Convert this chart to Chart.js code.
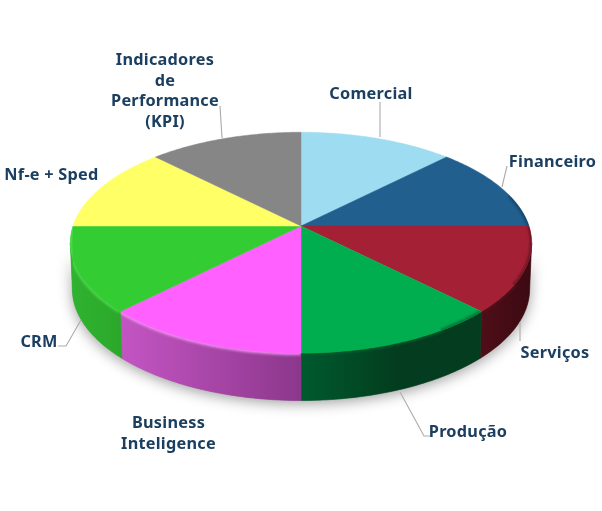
<!DOCTYPE html>
<html>
<head>
<meta charset="utf-8">
<style>html,body{margin:0;padding:0;background:#fff}canvas{display:block}</style>
<script src="https://cdn.jsdelivr.net/npm/chart.js@4"></script>
</head>
<body>
<canvas id="c" width="602" height="511"></canvas>
<script>
const categories = [["Comercial"],["Financeiro"],["Serviços"],["Produção"],["Business","Inteligence"],["CRM"],["Nf-e + Sped"],["Indicadores","de","Performance","(KPI)"]];
const values = [12.5,12.5,12.5,12.5,12.5,12.5,12.5,12.5];
const topColors = ["#9DDCF1","#215F8F","#A42135","#00AE4F","#FF60FF","#33CC33","#FFFF66","#868686"];
const sideLeft = ["#4E0E18","#4E0E18","#4E0E18","#005A2E","#C455C4","#2FB32F","#2FB32F","#2FB32F"];
const sideRight = ["#3C0A12","#3C0A12","#3C0A12","#033C1E","#8C378C","#2BA82B","#2BA82B","#2BA82B"];
const bevel = [null,"#123a58","#5e101c","#00602f","#FF9CFF","#55E055",null,null];
const labelPos = [[371,94],[552.5,162],[555,353],[468,432],[168.5,434],[39,342],[51.5,175],[165,91.5]];
const leaders = [[[380,137],[380,102]],[[502,187],[507,166]],[[520,322],[520,341]],[[400,392],[424,436],[430,436]],[],[[81,320],[66,346],[58,346]],[],[[222,138],[220,106]]];

const TOP = {cx:301,cy:226,R:228,A:108,B:-0.152};
const BOT = {cx:301,cy:272,R:226,A:109,B:-0.152};
function proj(g,a){
  const c=Math.cos(a),s=Math.sin(a),d=1+g.B*s;
  return [g.cx+g.R*c/d,g.cy+g.A*s/d];
}
function edge(ctx,g,a0,a1,first){
  const n=Math.max(2,Math.ceil(Math.abs(a1-a0)*60));
  for(let i=0;i<=n;i++){
    const p=proj(g,a0+(a1-a0)*i/n);
    if(i===0&&first)ctx.moveTo(p[0],p[1]);else ctx.lineTo(p[0],p[1]);
  }
}
function sidePath(ctx,a0,a1){
  ctx.beginPath();
  edge(ctx,TOP,a0,a1,true);
  edge(ctx,BOT,a1,a0,false);
  ctx.closePath();
}
function wedge(ctx,a0,a1){
  ctx.beginPath();
  ctx.moveTo(TOP.cx,TOP.cy);
  edge(ctx,TOP,a0,a1,false);
  ctx.closePath();
}
const H0=0.153,H1=Math.PI-0.153;
const pie3d={
  id:'pie3d',
  beforeDatasetDraw(chart,args){
    const ctx=chart.ctx,arcs=args.meta.data;
    const ang=arcs.map(e=>{const p=e.getProps(['startAngle','endAngle'],true);return [p.startAngle,p.endAngle];});
    ctx.save();
    ctx.shadowColor='rgba(0,0,0,0.38)';ctx.shadowBlur=14;ctx.shadowOffsetY=3;ctx.fillStyle='#888';
    sidePath(ctx,H0,H1);ctx.fill();
    ctx.restore();
    arcs.forEach((e,i)=>{
      const a0=Math.max(ang[i][0],H0),a1=Math.min(ang[i][1],H1);
      if(a1<=a0)return;
      const x0=Math.min(proj(TOP,a0)[0],proj(TOP,a1)[0]),x1=Math.max(proj(TOP,a0)[0],proj(TOP,a1)[0]);
      const g=ctx.createLinearGradient(x0,0,x1,0);
      g.addColorStop(0,sideLeft[i]);
      if(i===3)g.addColorStop(0.55,sideRight[i]);
      g.addColorStop(1,sideRight[i]);
      ctx.fillStyle=g;sidePath(ctx,a0,a1);ctx.fill();
      ctx.strokeStyle=g;ctx.lineWidth=0.6;ctx.stroke();
    });
    arcs.forEach((e,i)=>{
      ctx.fillStyle=topColors[i];wedge(ctx,ang[i][0],ang[i][1]);ctx.fill();
      ctx.strokeStyle=topColors[i];ctx.lineWidth=0.5;ctx.stroke();
    });
    arcs.forEach((e,i)=>{
      if(!bevel[i])return;
      const a0=Math.max(ang[i][0],-0.3),a1=Math.min(ang[i][1],Math.PI);
      if(a1<=a0)return;
      ctx.save();
      ctx.beginPath();
      ctx.moveTo(TOP.cx,TOP.cy);edge(ctx,TOP,a0,a1,false);
      if(a1>H0&&a0<H1)edge(ctx,BOT,Math.min(a1,H1),Math.max(a0,H0),false);
      ctx.closePath();ctx.clip();
      ctx.filter='blur(1.6px)';
      ctx.strokeStyle=bevel[i];ctx.lineWidth=3;
      ctx.beginPath();edge(ctx,TOP,a0,a1,true);ctx.stroke();
      ctx.restore();
    });
    return false;
  },
  afterDraw(chart){
    const ctx=chart.ctx;
    ctx.save();
    ctx.strokeStyle='#ABABAB';ctx.lineWidth=1.1;
    leaders.forEach(l=>{
      if(!l.length)return;
      ctx.beginPath();l.forEach((p,i)=>i?ctx.lineTo(p[0],p[1]):ctx.moveTo(p[0],p[1]));ctx.stroke();
    });
    ctx.fillStyle='#1B3F60';
    ctx.font='bold 16.3px "Noto Sans"';
    ctx.letterSpacing='0.25px';
    ctx.textAlign='center';ctx.textBaseline='middle';
    chart.data.labels.forEach((lines,i)=>{
      const lh=20.5,n=lines.length;
      lines.forEach((t,j)=>ctx.fillText(t,labelPos[i][0],labelPos[i][1]+(j-(n-1)/2)*lh));
    });
    ctx.restore();
  }
};
new Chart(document.getElementById('c'),{
  type:'pie',
  data:{labels:categories,datasets:[{data:values,backgroundColor:topColors,borderWidth:0}]},
  options:{responsive:false,animation:false,rotation:0,
    plugins:{legend:{display:false},tooltip:{enabled:false}}},
  plugins:[pie3d]
});
</script>
</body>
</html>
